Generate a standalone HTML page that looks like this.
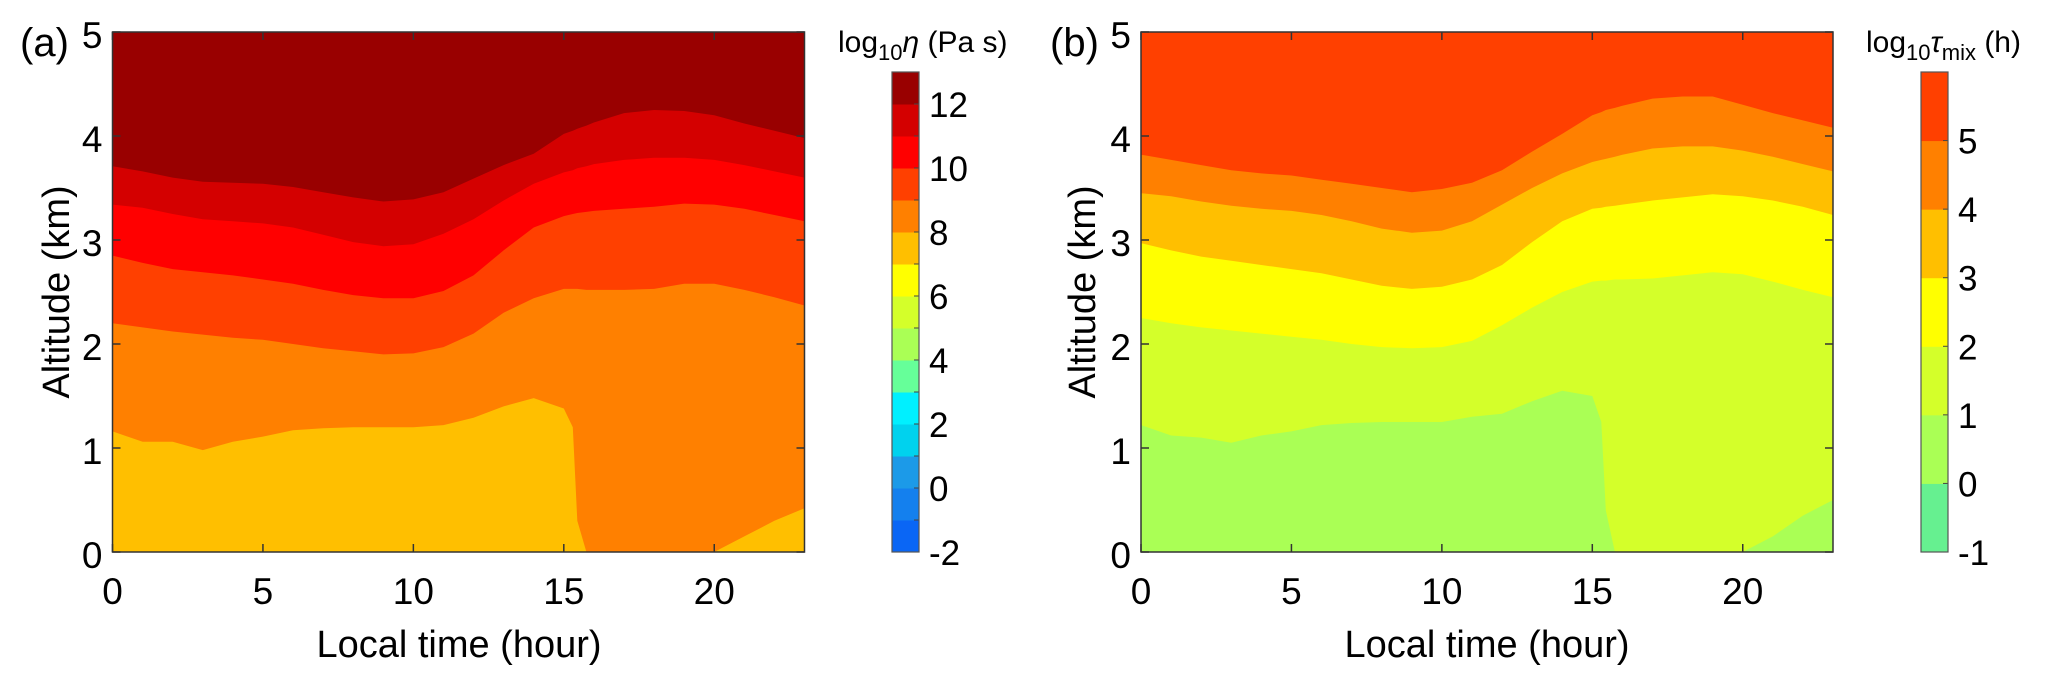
<!DOCTYPE html>
<html><head><meta charset="utf-8"><title>Viscosity and mixing time contours</title>
<style>
html,body{margin:0;padding:0;background:#fff;}
svg{display:block;font-family:"Liberation Sans",Arial,sans-serif;}
</style></head>
<body>
<svg id="fig" width="2067" height="684" viewBox="0 0 2067 684" xmlns="http://www.w3.org/2000/svg">
<g id="panelA"></g>
<g id="panelB"></g>
<g id="cbarA"></g>
<g id="cbarB"></g>
<text x="20" y="56" font-size="40">(a)</text>
<text x="1050" y="56" font-size="40">(b)</text>
<text x="838" y="52" font-size="30">log<tspan font-size="22" dy="8">10</tspan><tspan dy="-8" font-style="italic">η</tspan> (Pa s)</text>
<text x="1866" y="52" font-size="30">log<tspan font-size="22" dy="8">10</tspan><tspan dy="-8" font-style="italic">τ</tspan><tspan font-size="22" dy="8">mix</tspan><tspan dy="-8"> (h)</tspan></text>
<text x="459" y="657" font-size="38" text-anchor="middle">Local time (hour)</text>
<text x="1487" y="657" font-size="38" text-anchor="middle">Local time (hour)</text>
<text x="0" y="0" font-size="38" text-anchor="middle" transform="translate(69,292) rotate(-90)">Altitude (km)</text>
<text x="0" y="0" font-size="38" text-anchor="middle" transform="translate(1095,292) rotate(-90)">Altitude (km)</text>
</svg>
<script>
// shared local time grid (hours)
const times = [0,1,2,3,4,5,6,7,8,9,10,11,12,13,14,15,15.3,15.45,15.75,16,17,18,19,20,21,22,23];
// panel (a): altitude (km) of log10(eta) contour levels
const etaLevel8  = [1.16,1.06,1.06,0.98,1.06,1.11,1.17,1.19,1.2,1.2,1.2,1.22,1.29,1.4,1.48,1.38,1.2,0.3,0,0,0,0,0,0,0.15,0.3,0.42];
const etaLevel9  = [2.2,2.16,2.12,2.09,2.06,2.04,2.0,1.96,1.93,1.9,1.91,1.97,2.1,2.3,2.44,2.53,2.53,2.53,2.52,2.52,2.52,2.53,2.58,2.58,2.52,2.45,2.37];
const etaLevel10 = [2.85,2.78,2.72,2.69,2.66,2.62,2.58,2.52,2.47,2.44,2.44,2.51,2.66,2.9,3.12,3.23,3.25,3.26,3.27,3.28,3.3,3.32,3.35,3.34,3.3,3.24,3.18];
const etaLevel11 = [3.34,3.31,3.25,3.2,3.18,3.16,3.12,3.05,2.98,2.94,2.96,3.06,3.2,3.38,3.54,3.65,3.67,3.69,3.71,3.73,3.77,3.79,3.79,3.77,3.72,3.66,3.6];
const etaLevel12 = [3.71,3.66,3.6,3.56,3.55,3.54,3.51,3.46,3.41,3.37,3.39,3.46,3.59,3.72,3.83,4.02,4.05,4.07,4.1,4.13,4.22,4.25,4.24,4.2,4.12,4.05,3.98];
// panel (b): altitude (km) of log10(tau_mix) contour levels
const tauLevel1 = [1.22,1.12,1.1,1.05,1.12,1.16,1.22,1.24,1.25,1.25,1.25,1.3,1.33,1.45,1.55,1.5,1.25,0.4,0,0,0,0,0,0,0.15,0.35,0.5];
const tauLevel2 = [2.25,2.2,2.16,2.13,2.1,2.07,2.04,2.0,1.97,1.96,1.97,2.03,2.18,2.35,2.5,2.6,2.61,2.61,2.62,2.62,2.63,2.66,2.69,2.67,2.6,2.52,2.45];
const tauLevel3 = [2.97,2.9,2.84,2.8,2.76,2.72,2.68,2.62,2.56,2.53,2.55,2.62,2.76,2.98,3.18,3.3,3.31,3.32,3.33,3.34,3.38,3.41,3.44,3.42,3.38,3.32,3.24];
const tauLevel4 = [3.45,3.42,3.37,3.33,3.3,3.28,3.24,3.18,3.11,3.07,3.09,3.18,3.34,3.5,3.64,3.75,3.77,3.78,3.8,3.82,3.88,3.9,3.9,3.86,3.8,3.73,3.66];
const tauLevel5 = [3.82,3.77,3.72,3.67,3.64,3.62,3.58,3.54,3.5,3.46,3.49,3.55,3.67,3.85,4.02,4.2,4.23,4.25,4.27,4.29,4.36,4.38,4.38,4.3,4.22,4.15,4.08];
// axis ticks
const xTicks = [0,5,10,15,20];
const yTicks = [0,1,2,3,4,5];
const etaBarTicks = [-2,0,2,4,6,8,10,12];
const tauBarTicks = [-1,0,1,2,3,4,5];
const etaBarLevels = [-2,-1,0,1,2,3,4,5,6,7,8,9,10,11,12,13];
const tauBarLevels = [-1,0,1,2,3,4,5,6];

const NS="http://www.w3.org/2000/svg";
const etaColors=["#0a66f5","#1480ee","#1c9ae8","#00d2ee","#00f0ff","#66ff99","#aaff55","#d4ff2a","#ffff00","#ffbf00","#ff8000","#ff4000","#ff0000","#d40000","#990000"];
const tauColors=["#66f090","#aaff55","#d4ff2a","#ffff00","#ffbf00","#ff8000","#ff4000"];
const X0=0, X1=23, Y0=0, Y1=5, TOP=32, BOT=552, W=692;
function mk(tag,attrs,parent){const e=document.createElementNS(NS,tag);for(const k in attrs)e.setAttribute(k,attrs[k]);parent.appendChild(e);return e;}
function panel(g,left,base,bands,names){
  const xs=h=>left+(h-X0)/(X1-X0)*W;
  const ys=v=>BOT-(v-Y0)/(Y1-Y0)*(BOT-TOP);
  const bg=mk('rect',{x:left,y:TOP,width:W,height:BOT-TOP,fill:base.color},g);
  
  
  bands.forEach((b,i)=>{
    let pts=times.map((t,j)=>xs(t).toFixed(1)+','+ys(b.vals[j]).toFixed(1));
    pts.push(xs(X1)+','+TOP, xs(X0)+','+TOP);
    const p=mk('polygon',{points:pts.join(' '),fill:b.color},g);
    
    
  });
  const box=mk('rect',{x:left,y:TOP,width:W,height:BOT-TOP,fill:'none',stroke:'#333',"stroke-width":1.5},g);
  
  
  xTicks.forEach(t=>{
    const x=xs(t);
    mk('line',{x1:x,y1:BOT,x2:x,y2:BOT-8,stroke:'#333',"stroke-width":1.5},g);
    mk('line',{x1:x,y1:TOP,x2:x,y2:TOP+8,stroke:'#333',"stroke-width":1.5},g);
    const tx=mk('text',{x:x,y:604,"font-size":37,"text-anchor":"middle"},g);
    tx.textContent=t;
    
    
  });
  yTicks.forEach(t=>{
    const y=ys(t);
    mk('line',{x1:left,y1:y,x2:left+8,y2:y,stroke:'#333',"stroke-width":1.5},g);
    mk('line',{x1:left+W,y1:y,x2:left+W-8,y2:y,stroke:'#333',"stroke-width":1.5},g);
    const ty=mk('text',{x:left-10,y:y+16,"font-size":37,"text-anchor":"end"},g);
    ty.textContent=t;
    
    
  });
}
function cbar(g,x,w,levels,colors,ticks){
  const vmin=levels[0], vmax=levels[levels.length-1];
  const ys=v=>BOT-(v-vmin)/(vmax-vmin)*(BOT-72);
  for(let i=0;i<levels.length-1;i++){
    const r=mk('rect',{x:x,y:ys(levels[i+1]),width:w,height:ys(levels[i])-ys(levels[i+1])+0.5,fill:colors[i]},g);
    
    
    mk('line',{x1:x+w,y1:ys(levels[i]),x2:x+w-5,y2:ys(levels[i]),stroke:'#444',"stroke-width":1},g);
  }
  mk('rect',{x:x,y:72,width:w,height:BOT-72,fill:'none',stroke:'#555',"stroke-width":1.2},g);
  ticks.forEach(t=>{
    const tl=mk('text',{x:x+w+10,y:ys(t)+13,"font-size":35},g);
    tl.textContent=t;
    
    
  });
}
panel(document.getElementById('panelA'),112.5,{color:"#ffbf00",name:'eta-band-7-8'},
  [{vals:etaLevel8,color:"#ff8000"},{vals:etaLevel9,color:"#ff4000"},{vals:etaLevel10,color:"#ff0000"},{vals:etaLevel11,color:"#d40000"},{vals:etaLevel12,color:"#990000"}],
  ['eta-band-8-9','eta-band-9-10','eta-band-10-11','eta-band-11-12','eta-band-12-13']);
panel(document.getElementById('panelB'),1141,{color:"#aaff55",name:'tau-band-0-1'},
  [{vals:tauLevel1,color:"#d4ff2a"},{vals:tauLevel2,color:"#ffff00"},{vals:tauLevel3,color:"#ffbf00"},{vals:tauLevel4,color:"#ff8000"},{vals:tauLevel5,color:"#ff4000"}],
  ['tau-band-1-2','tau-band-2-3','tau-band-3-4','tau-band-4-5','tau-band-5-6']);
cbar(document.getElementById('cbarA'),892,27,etaBarLevels,etaColors,etaBarTicks);
cbar(document.getElementById('cbarB'),1921,27,tauBarLevels,tauColors,tauBarTicks);
</script>
</body></html>
